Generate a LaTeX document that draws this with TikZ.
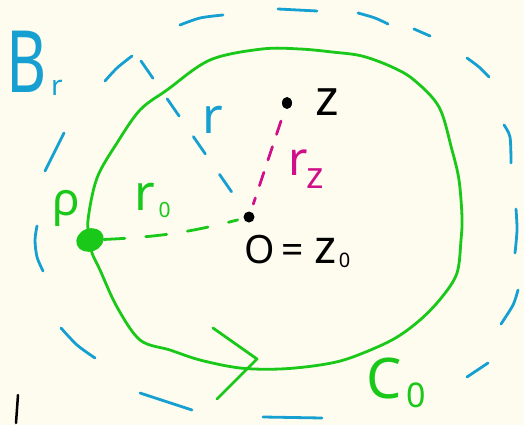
\documentclass[tikz,border=0pt]{standalone}
\usepackage{fontspec}
\usepackage{graphicx}
\setmainfont{Noto Sans}
\usetikzlibrary{shapes.geometric}
\definecolor{bg}{RGB}{253,252,238}
\definecolor{cblue}{RGB}{22,160,210}
\definecolor{cgreen}{RGB}{25,200,25}
\definecolor{cmag}{RGB}{208,16,138}
\newcommand{\fsz}[1]{\fontsize{#1}{#1}\selectfont}
\begin{document}
\begin{tikzpicture}[x=1pt,y=-1pt,
  stroke/.style={line width=2.8pt,line cap=round,line join=round},
  lbl/.style={inner sep=0pt,outer sep=0pt}]
\fill[bg] (0,0) rectangle (524,425);
\useasboundingbox (0,0) rectangle (524,425);

% outer dashed circle B_r
\begin{scope}[stroke, cblue]
\draw plot[smooth] coordinates {(37,226) (35,240) (37,257) (43,271)};
\draw plot[smooth] coordinates {(61,328) (77,345) (95,358)};
\draw (140,393) -- (192,410);
\draw (263,417) -- (322,418);
\draw (467,377) -- (488,363);
\draw plot[smooth] coordinates {(518,290) (513,305) (501,324)};
\draw plot[smooth] coordinates {(516,209) (517,230) (515,253)};
\draw plot[smooth] coordinates {(504,125) (510,137) (511,163)};
\draw plot[smooth] coordinates {(467,58) (479,67) (489,77)};
\draw (414,29) -- (430,36);
\draw plot[smooth] coordinates {(358,13) (375,18) (388,24)};
\draw (278,9) -- (317,11);
\draw plot[smooth] coordinates {(180,25) (200,18) (223,15)};
\draw plot[smooth] coordinates {(105,81) (117,68) (132,56)};
\draw (45,171) -- (64,133);
\end{scope}

% green curve C_0
\draw[stroke, cgreen] plot[smooth cycle, tension=0.55] coordinates {
 (90,240) (88,220) (97,178) (117,143) (140,110) (167,90) (210,60) (262,49)
 (300,49) (332,52) (362,56) (392,67) (414,80) (439,107) (452,150) (459,180)
 (462,217) (461,240) (457,273) (442,297) (420,320) (392,340) (350,358)
 (320,365) (280,369) (240,368) (200,360) (170,350) (140,340) (117,307)
 (100,270) (92,253)};
\draw[stroke, cgreen] (213,328) -- (257,359) -- (217,399);

% points
\node[ellipse, fill=cgreen, minimum width=28pt, minimum height=23pt, inner sep=0pt, rotate=20] (rho) at (90,240) {};
\node[circle, fill=black, minimum size=11pt, inner sep=0pt] (O) at (249,217) {};
\node[ellipse, fill=black, minimum width=10pt, minimum height=12pt, inner sep=0pt] (z) at (287,103) {};
\coordinate (rstart) at (141,61);

% connectors
\draw[stroke, cmag, dash pattern=on 14pt off 13pt, shorten <=13pt, shorten >=8pt] (z) -- (O);
\draw[stroke, cblue, dash pattern=on 21pt off 25pt, shorten >=20pt] (rstart) -- (O);
\draw[stroke, cgreen, dash pattern=on 21pt off 21pt, shorten >=6pt] (rho) to[bend right=6] (O);

% labels
\node[lbl, text=cblue, anchor=base west] (Br) at (6,93) {\scalebox{0.72}[1]{\fsz{86}B}\kern5pt\raisebox{-2pt}{\fsz{28}r}};
\node[lbl, text=cblue, anchor=base] (rlab) at (213,133) {\fsz{50}r};
\node[lbl, text=cgreen, anchor=base] (rholab) at (66,215) {\fsz{46}ρ};
\node[lbl, text=cgreen, anchor=base west] (r0lab) at (134,210) {\fsz{50}r\kern4pt\raisebox{-7pt}{\fsz{21}0}};
\node[lbl, anchor=base] (zlab) at (327,115) {\fsz{50}z};
\node[lbl, text=cmag, anchor=base west] (rzlab) at (288,175) {\fsz{47}r\kern-1pt\raisebox{-13pt}{\fsz{37}z}};
\node[lbl, anchor=base west] (Oz) at (244,263) {\fsz{39}O\kern7pt=\kern11pt\fsz{47}z\kern2pt\raisebox{-4pt}{\fsz{20}0}};
\node[lbl, text=cgreen, anchor=base west] (C0lab) at (366,398) {\fsz{56}C\kern5pt\raisebox{-9pt}{\fsz{34}0}};

\draw[line width=2.5pt, line cap=round] (18,395) -- (16,423);
\end{tikzpicture}
\end{document}
